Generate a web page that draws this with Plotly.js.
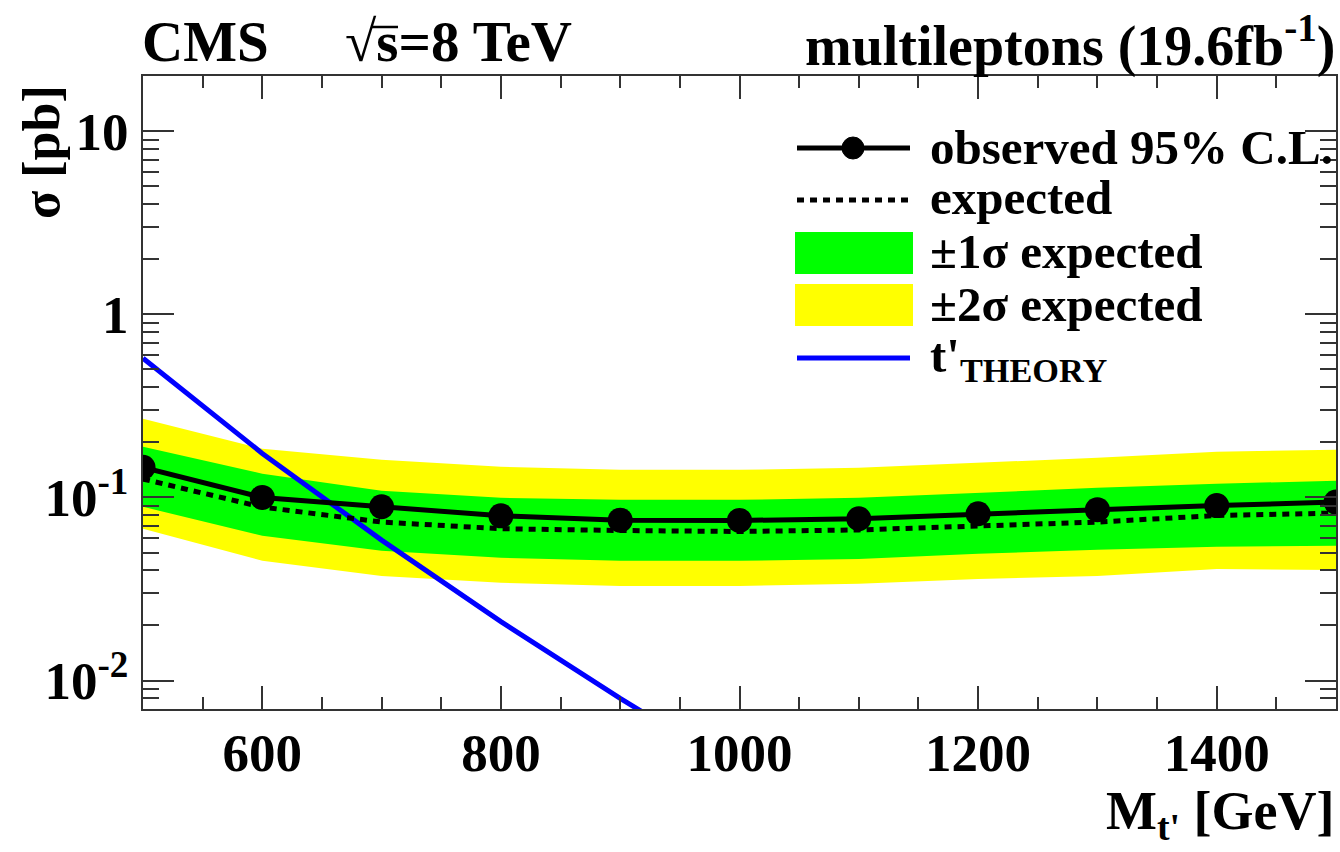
<!DOCTYPE html>
<html>
<head>
<meta charset="utf-8">
<script src="https://cdn.plot.ly/plotly-3.0.1.min.js"></script>
<style>
  html, body { margin: 0; padding: 0; background: #ffffff; }
  #chart { width: 1340px; height: 852px; }
</style>
</head>
<body>
<div id="chart"></div>
<script>
// t' mass points (GeV)
const mass = [500, 600, 700, 800, 900, 1000, 1100, 1200, 1300, 1400, 1500];

// 95% C.L. upper limits on the cross section (pb)
const observed = [0.146, 0.100, 0.089, 0.0794, 0.0752, 0.0749, 0.0765, 0.0815, 0.0858, 0.0903, 0.0944];
const expected = [0.126, 0.0886, 0.0734, 0.0675, 0.0660, 0.0652, 0.0665, 0.0694, 0.0734, 0.0797, 0.0822];

// expected-limit bands (pb)
const plus1sigma  = [0.189, 0.1349, 0.1088, 0.0996, 0.0971, 0.0971, 0.0996, 0.1061, 0.1129, 0.1188, 0.1234];
const minus1sigma = [0.0889, 0.0618, 0.0512, 0.0468, 0.0451, 0.0451, 0.0462, 0.0493, 0.0518, 0.0538, 0.0545];
const plus2sigma  = [0.269, 0.1845, 0.1607, 0.1472, 0.1416, 0.1416, 0.1453, 0.1548, 0.1648, 0.1778, 0.1824];
const minus2sigma = [0.0675, 0.0451, 0.0373, 0.0342, 0.0329, 0.0329, 0.0338, 0.0359, 0.0373, 0.0407, 0.0402];

// theory cross section for t' pair production (pb)
const theoryMass = [500, 600, 700, 800, 900, 1000];
const theoryXsec = [0.575, 0.174, 0.0585, 0.0210, 0.0080, 0.0032];

// axis ticks
const xTickStep = 200;
const xMinorStep = 50;
const yTickVals = [0.01, 0.1, 1, 10];
const yTickText = ['10<sup>-2</sup>', '10<sup>-1</sup>', '1', '10'];

// legend entries
const legendLabels = [
  'observed 95% C.L.',
  'expected',
  '±1σ expected',
  '±2σ expected',
  "t'<sub>THEORY</sub>"
];

const FONT = 'Liberation Serif, Times New Roman, serif';
const AXIS = '#333333';

// frame in pixels: plot area spans x 143..1336, y 76..709
const W = 1340, H = 852;
const L = 143, R = 4, T = 76, B = 143;
const pw = W - L - R, ph = H - T - B;
const px = x => (x - L) / pw;
const py = y => (H - B - y) / ph;

const traces = [
  { x: mass, y: minus2sigma, mode: 'lines', line: { width: 0, color: '#ffff00' },
    hoverinfo: 'skip', showlegend: false },
  { x: mass, y: plus2sigma, mode: 'lines', fill: 'tonexty', fillcolor: '#ffff00',
    line: { width: 0, color: '#ffff00' }, hoverinfo: 'skip', showlegend: false },
  { x: mass, y: minus1sigma, mode: 'lines', line: { width: 0, color: '#00ff00' },
    hoverinfo: 'skip', showlegend: false },
  { x: mass, y: plus1sigma, mode: 'lines', fill: 'tonexty', fillcolor: '#00ff00',
    line: { width: 0, color: '#00ff00' }, hoverinfo: 'skip', showlegend: false },
  { x: theoryMass, y: theoryXsec, mode: 'lines', line: { width: 5, color: '#0000ff' },
    showlegend: false },
  { x: mass, y: expected, mode: 'lines', line: { width: 5, color: '#000000', dash: '7px,6px' },
    showlegend: false },
  { x: mass, y: observed, mode: 'lines+markers', line: { width: 5, color: '#000000' },
    marker: { size: 25, color: '#000000' }, showlegend: false }
];

const annFont = (size) => ({ family: FONT, size: size, color: '#000000', weight: 'bold' });

const annotations = [
  { text: 'CMS', x: px(140), y: py(42), xanchor: 'left', yanchor: 'middle', font: annFont(57) },
  { text: '<span style="font-weight:normal">√</span>s=8 TeV', x: px(343), y: py(42),
    xanchor: 'left', yanchor: 'middle', font: annFont(57) },
  { text: 'multileptons (19.6fb<sup>-1</sup>)', x: px(1337), y: py(42), xanchor: 'right',
    yanchor: 'middle', font: annFont(56) },
  { text: 'σ [pb]', x: px(41), y: py(152), xanchor: 'center', yanchor: 'middle',
    textangle: -90, font: annFont(52) },
  { text: "M<sub>t'</sub> [GeV]", x: px(1337), y: py(814), xanchor: 'right', yanchor: 'middle',
    font: annFont(54) }
];

const legendY = [148, 198, 252, 304, 358];
legendLabels.forEach((lab, i) => {
  annotations.push({ text: lab, x: px(928), y: py(legendY[i]), xanchor: 'left', yanchor: 'middle',
    font: annFont(49) });
});
annotations.forEach(a => { a.xref = 'paper'; a.yref = 'paper'; a.showarrow = false; });

const shapes = [
  // vinculum of the square root
  { type: 'line', x0: px(371), x1: px(398), y0: py(27), y1: py(27),
    line: { color: '#000000', width: 2.5 } },
  // legend samples
  { type: 'line', x0: px(797), x1: px(910), y0: py(148), y1: py(148),
    line: { color: '#000000', width: 5 } },
  { type: 'circle', x0: px(842), x1: px(864), y0: py(137), y1: py(159),
    fillcolor: '#000000', line: { color: '#000000', width: 1 } },
  { type: 'line', x0: px(797), x1: px(910), y0: py(200), y1: py(200),
    line: { color: '#000000', width: 5, dash: '7px,6px' } },
  { type: 'rect', x0: px(795), x1: px(913), y0: py(232), y1: py(274),
    fillcolor: '#00ff00', line: { width: 0 } },
  { type: 'rect', x0: px(795), x1: px(913), y0: py(284), y1: py(326),
    fillcolor: '#ffff00', line: { width: 0 } },
  { type: 'line', x0: px(797), x1: px(910), y0: py(358), y1: py(358),
    line: { color: '#0000ff', width: 5 } }
];
shapes.forEach(s => { s.xref = 'paper'; s.yref = 'paper'; s.layer = 'above'; });

const layout = {
  width: W, height: H,
  margin: { l: L, r: R, t: T, b: B, pad: 0 },
  paper_bgcolor: '#ffffff', plot_bgcolor: '#ffffff',
  font: { family: FONT, color: '#000000', weight: 'bold' },
  showlegend: false,
  xaxis: {
    range: [500, 1500], tick0: 0, dtick: xTickStep,
    ticks: 'inside', ticklen: 23, tickwidth: 2, tickcolor: AXIS,
    showline: true, linewidth: 2, linecolor: AXIS, mirror: 'allticks',
    showgrid: false, zeroline: false, ticklabelstandoff: -4,
    tickfont: { family: FONT, size: 53, color: '#000000', weight: 'bold' },
    minor: { dtick: xMinorStep, ticks: 'inside', ticklen: 12, tickwidth: 2, tickcolor: AXIS, showgrid: false }
  },
  yaxis: {
    type: 'log', range: [Math.log10(0.007), Math.log10(20)],
    tickmode: 'array', tickvals: yTickVals, ticktext: yTickText,
    ticks: 'inside', ticklen: 31, tickwidth: 2, tickcolor: AXIS,
    showline: true, linewidth: 2, linecolor: AXIS, mirror: 'allticks',
    showgrid: false, zeroline: false, ticklabelstandoff: 2,
    tickfont: { family: FONT, size: 53, color: '#000000', weight: 'bold' },
    minor: { dtick: 'D1', ticks: 'inside', ticklen: 16, tickwidth: 2, tickcolor: AXIS, showgrid: false }
  },
  annotations: annotations,
  shapes: shapes
};

Plotly.newPlot('chart', traces, layout, { displayModeBar: false, staticPlot: true });
</script>
</body>
</html>
